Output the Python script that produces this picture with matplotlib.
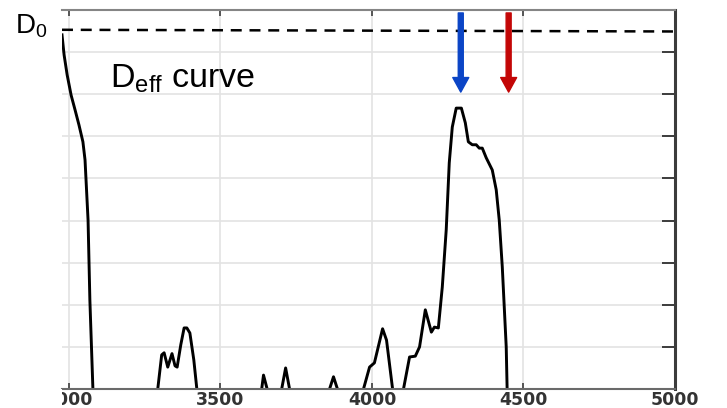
import numpy as np
import matplotlib
matplotlib.use("Agg")
import matplotlib.pyplot as plt
from matplotlib.patches import Rectangle

plt.rcParams['mathtext.fontset'] = 'custom'
plt.rcParams['mathtext.rm'] = 'Liberation Sans'
plt.rcParams['mathtext.it'] = 'Liberation Sans'
plt.rcParams['lines.scale_dashes'] = False

# ---- data ----
curve_x = [2977, 2984, 2994, 3007, 3020, 3033, 3046, 3053, 3063, 3069, 3079,
           3293, 3306, 3314, 3326, 3340, 3350, 3357, 3369, 3380, 3389, 3399, 3412, 3422,
           3636, 3642, 3654,
           3702, 3715, 3728,
           3860, 3873, 3886,
           3972, 3992, 4008, 4035, 4048, 4068,
           4104, 4124, 4143, 4157, 4176, 4196, 4206, 4219, 4232, 4245, 4255, 4265,
           4278, 4295, 4308, 4318, 4331, 4344, 4354, 4364, 4377, 4397, 4410, 4420,
           4430, 4443, 4446]
curve_y = [8.41, 7.93, 7.46, 6.98, 6.63, 6.27, 5.87, 5.44, 4.01, 2.11, 0.0,
           0.0, 0.81, 0.86, 0.52, 0.84, 0.55, 0.52, 1.05, 1.45, 1.45, 1.33, 0.69, 0.0,
           0.0, 0.33, 0.0,
           0.0, 0.50, 0.0,
           0.0, 0.29, 0.0,
           0.0, 0.52, 0.62, 1.43, 1.16, 0.0,
           0.0, 0.76, 0.78, 1.00, 1.88, 1.35, 1.47, 1.45, 2.42, 3.78, 5.37, 6.22,
           6.67, 6.67, 6.32, 5.87, 5.80, 5.80, 5.72, 5.72, 5.49, 5.20, 4.73, 4.01,
           2.90, 1.00, 0.0]
d0_level = [8.53, 8.49]
d0_x = [2977, 5000]
x_ticks = [3000, 3500, 4000, 4500, 5000]
x_tick_labels = ['3000', '3500', '4000', '4500', '5000']
y_ticks = [1, 2, 3, 4, 5, 6, 7, 8]
blue_arrow_x = 4293
red_arrow_x = 4451
arrow_top = 8.93
arrow_tip = 7.05

W, H = 727, 408
fig = plt.figure(figsize=(W / 100, H / 100), dpi=100)
ax = fig.add_axes([62 / W, 1 - 389 / H, (675 - 62) / W, (389 - 10) / H])
ax.set_xlim(2977, 5000)
ax.set_ylim(0, 9)

ax.grid(True, color='#e3e3e3', lw=1.2, zorder=0)
ax.set_axisbelow(True)

# curve: draw as segments, skipping runs lying on the axis
xs = np.array(curve_x, float)
ys = np.array(curve_y, float)
start = 0
for i in range(len(xs) - 1):
    if ys[i] == 0 and ys[i + 1] == 0:
        ax.plot(xs[start:i + 1], ys[start:i + 1], color='black', lw=2.1,
                solid_joinstyle='round', zorder=3)
        start = i + 1
ax.plot(xs[start:], ys[start:], color='black', lw=2.1, solid_joinstyle='round', zorder=3)

# D0 dashed line
ax.plot(d0_x, d0_level, color='black', lw=1.8, linestyle=(0, (7.9, 5.6)), zorder=3)

# arrows
for xa, col in [(blue_arrow_x, '#0b45c6'), (red_arrow_x, '#c30606')]:
    ax.annotate('', xy=(xa, arrow_tip), xytext=(xa, arrow_top),
                arrowprops=dict(arrowstyle='simple,head_width=1.15,head_length=1.05,tail_width=0.36',
                                color=col, shrinkA=0, shrinkB=0, mutation_scale=10),
                zorder=4)

# spines
ax.spines['left'].set_visible(False)
ax.spines['top'].set_color('#858585')
ax.spines['top'].set_linewidth(1.5)
ax.spines['bottom'].set_color('#6a6a6a')
ax.spines['bottom'].set_linewidth(1.5)
ax.spines['right'].set_color('#3c3c3c')
ax.spines['right'].set_linewidth(2.2)
for s in ax.spines.values():
    s.set_zorder(5)

ax.set_xticks(x_ticks)
ax.set_xticklabels(x_tick_labels)
ax.tick_params(axis='x', direction='in', top=True, bottom=True, length=4.3, width=1.4,
               color='#555555', pad=1.5, labelsize=12.5, labelcolor='#333333')
for lab in ax.get_xticklabels():
    lab.set_fontweight('bold')
    lab.set_family('DejaVu Sans')
ax.set_yticks(y_ticks)
ax.tick_params(axis='y', direction='in', left=False, right=True, labelleft=False,
               length=9.4, width=1.4, color='#3c3c3c')

# white mask to crop the tick label left of the plot
fig.patches.append(Rectangle((0, 0), 62 / W, 19 / H, transform=fig.transFigure,
                             facecolor='white', edgecolor='none', zorder=10))

fig.text(15 / W, 1 - 34 / H, r'D$_{0}$', fontsize=20, family='Liberation Sans',
         va='baseline', ha='left', color='black')
fig.text(110 / W, 1 - 88 / H, r'D$_{\mathrm{eff}}$ curve', fontsize=24.5,
         family='Liberation Sans', va='baseline', ha='left', color='black')

fig.savefig('out.png', dpi=100)
